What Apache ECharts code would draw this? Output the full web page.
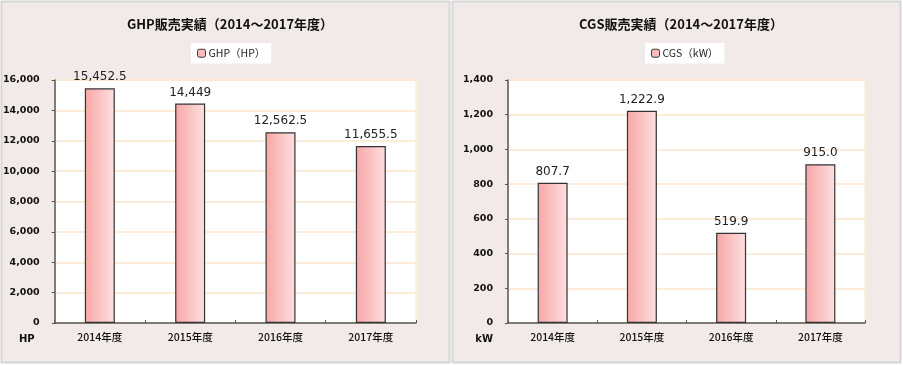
<!DOCTYPE html>
<html><head><meta charset="utf-8">
<script src="https://cdn.jsdelivr.net/npm/echarts@6/dist/echarts.min.js"></script>
<style>html,body{margin:0;padding:0;background:#fff}#c{width:903px;height:365px}</style>
</head><body><div id="c"></div>
<script>
const categories = ['2014年度', '2015年度', '2016年度', '2017年度'];
const ghpValues = [15452.5, 14449, 12562.5, 11655.5];
const cgsValues = [807.7, 1222.9, 519.9, 915.0];
const ghpTitle = 'GHP販売実績（2014～2017年度）';
const cgsTitle = 'CGS販売実績（2014～2017年度）';
const ghpLegend = 'GHP（HP）';
const cgsLegend = 'CGS（kW）';
const ghpUnit = 'HP';
const cgsUnit = 'kW';

const FONT = '"DejaVu Sans", Verdana, "Noto Sans CJK JP", sans-serif';
const CJK = '"Noto Sans CJK JP", sans-serif';
const barFill = new echarts.graphic.LinearGradient(0, 0, 1, 0, [
  {offset: 0, color: '#f8a6a6'},
  {offset: 1, color: '#fde0e0'}
]);
const fmtGhp = v => v.toLocaleString('en-US', {maximumFractionDigits: 1});
const fmtCgs = v => v.toLocaleString('en-US', {minimumFractionDigits: 1, maximumFractionDigits: 1});

function xAxis(i) {
  return {
    type: 'category', gridIndex: i, data: categories,
    axisLine: {lineStyle: {color: '#555', width: 1.5}},
    axisTick: {show: true, inside: true, length: 3, lineStyle: {color: '#555'}},
    axisLabel: {color: '#111', fontFamily: CJK, fontSize: 10.5, fontWeight: 500, margin: 9}
  };
}
function yAxis(i, max, interval, unit, namePad) {
  return {
    type: 'value', gridIndex: i, min: 0, max: max, interval: interval,
    name: unit, nameLocation: 'start', nameGap: 11,
    nameTextStyle: {color: '#111', fontFamily: FONT, fontSize: 10, fontWeight: 'bold', align: 'right', padding: [0, namePad, 0, 0], verticalAlign: 'top'},
    axisLine: {show: true, lineStyle: {color: '#555', width: 1.5}},
    axisTick: {show: true, length: 3, lineStyle: {color: '#555'}},
    axisLabel: {color: '#111', fontFamily: FONT, fontSize: 9.5, fontWeight: 'bold', margin: 15, formatter: v => v.toLocaleString('en-US')},
    splitLine: {lineStyle: {color: '#fde6cc', width: 1.5}}
  };
}
function series(i, data, fmt, name) {
  return {
    type: 'bar', name: name, xAxisIndex: i, yAxisIndex: i, data: data, barWidth: 30,
    itemStyle: {color: barFill, borderColor: '#333', borderWidth: 1.2},
    label: {show: true, position: 'top', distance: 5, color: '#222', fontFamily: FONT, fontSize: 12, formatter: p => fmt(p.value)}
  };
}
function legend(name, left) {
  return {data: [name], left: left, top: 43, width: 75, height: 22, backgroundColor: '#fff', padding: [5, 6, 5, 6],
    itemWidth: 8, itemHeight: 8, itemGap: 3, textStyle: {fontFamily: CJK, fontSize: 10.5, color: '#222', padding: [0, 0, 0, -2]},
    itemStyle: {color: '#f9bcbc', borderColor: '#333', borderWidth: 1}};
}

const chart = echarts.init(document.getElementById('c'), null, {renderer: 'canvas'});
chart.setOption({
  animation: false,
  graphic: [
    {type: 'rect', z: -10, shape: {x: 1.5, y: 1.5, width: 448, height: 361}, style: {fill: '#f2eae8', stroke: '#d6d6d6', lineWidth: 2}},
    {type: 'rect', z: -10, shape: {x: 452.5, y: 1.5, width: 448, height: 361}, style: {fill: '#f2eae8', stroke: '#d6d6d6', lineWidth: 2}}
  ],
  title: [
    {text: ghpTitle, left: 225, top: 13, textAlign: 'center', textStyle: {fontFamily: CJK, fontSize: 13, fontWeight: 'bold', color: '#111'}},
    {text: cgsTitle, left: 676, top: 13, textAlign: 'center', textStyle: {fontFamily: CJK, fontSize: 13, fontWeight: 'bold', color: '#111'}}
  ],
  legend: [legend(ghpLegend, 191), legend(cgsLegend, 645)],
  grid: [
    {left: 53, right: 487, top: 80, bottom: 42, show: true, backgroundColor: '#fff', borderColor: '#fdf1d6', borderWidth: 1.5},
    {left: 508, right: 38, top: 80, bottom: 42, show: true, backgroundColor: '#fff', borderColor: '#fdf1d6', borderWidth: 1.5}
  ],
  xAxis: [xAxis(0), xAxis(1)],
  yAxis: [yAxis(0, 16000, 2000, ghpUnit, 20), yAxis(1, 1400, 200, cgsUnit, 15)],
  series: [series(0, ghpValues, fmtGhp, ghpLegend), series(1, cgsValues, fmtCgs, cgsLegend)]
});
</script></body></html>
